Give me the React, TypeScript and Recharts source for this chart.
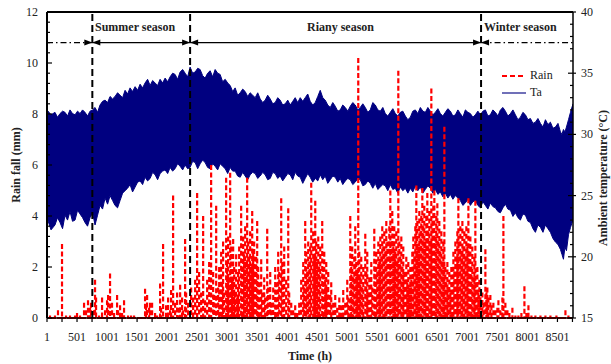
import React from "react";
import { ComposedChart, Area, Line, XAxis, YAxis, ReferenceLine } from "recharts";

const FONT = "'Liberation Serif', 'Times New Roman', serif";

// hourly ambient temperature band, read as upper / lower envelope of the daily swing
const taHour = [
  1, 68, 134, 176, 218, 260, 301, 343, 384, 426, 468, 510, 551, 593, 634, 676, 718, 760, 801, 843,
  884, 926, 968, 1010, 1051, 1093, 1134, 1176, 1218, 1260, 1301, 1343, 1384, 1426, 1468, 1510,
  1551, 1593, 1634, 1676, 1718, 1760, 1801, 1843, 1884, 1926, 1968, 2010, 2051, 2093, 2134, 2176,
  2218, 2260, 2301, 2343, 2384, 2426, 2468, 2510, 2551, 2593, 2634, 2676, 2718, 2760, 2801, 2843,
  2884, 2926, 2968, 3010, 3051, 3093, 3134, 3176, 3218, 3260, 3301, 3343, 3384, 3426, 3468, 3510,
  3551, 3593, 3634, 3676, 3718, 3760, 3801, 3843, 3884, 3926, 3968, 4010, 4051, 4093, 4134, 4176,
  4218, 4260, 4301, 4343, 4384, 4426, 4468, 4510, 4551, 4593, 4634, 4676, 4718, 4760, 4801, 4843,
  4884, 4926, 4968, 5010, 5051, 5093, 5134, 5176, 5218, 5260, 5301, 5343, 5384, 5426, 5468, 5510,
  5551, 5593, 5634, 5676, 5718, 5760, 5801, 5843, 5884, 5926, 5968, 6010, 6051, 6093, 6134, 6176,
  6218, 6260, 6301, 6343, 6384, 6426, 6468, 6510, 6551, 6593, 6634, 6676, 6718, 6760, 6801, 6843,
  6884, 6926, 6968, 7010, 7051, 7093, 7134, 7176, 7218, 7260, 7301, 7343, 7384, 7426, 7468, 7510,
  7551, 7593, 7634, 7676, 7718, 7760, 7801, 7843, 7884, 7926, 7968, 8010, 8051, 8093, 8134, 8176,
  8218, 8260, 8301, 8343, 8384, 8426, 8468, 8510, 8551, 8576, 8601, 8626, 8651, 8685, 8718, 8760,
];
const taMax = [
  32.0, 31.6, 31.8, 31.4, 31.7, 31.9, 31.8, 31.5, 32.0, 31.7, 31.6, 31.9, 31.7, 32.0, 31.8, 31.5, 31.9, 32.0, 32.2, 31.8,
  32.4, 32.7, 32.8, 32.6, 33.1, 32.9, 33.1, 33.4, 33.2, 33.0, 33.6, 33.3, 33.8, 33.5, 33.9, 33.6,
  34.1, 33.8, 34.2, 34.5, 34.0, 34.4, 34.2, 34.0, 34.5, 34.2, 34.6, 34.3, 34.7, 35.0, 34.9, 34.5,
  35.1, 35.3, 35.0, 34.7, 35.5, 35.0, 35.1, 35.4, 35.3, 34.8, 34.6, 35.0, 35.2, 34.7, 35.3, 35.0,
  34.9, 34.3, 34.5, 34.2, 34.0, 33.5, 33.8, 33.2, 33.4, 33.7, 33.5, 33.1, 33.4, 33.2, 33.0, 33.4,
  32.9, 32.6, 32.8, 33.2, 32.9, 32.5, 32.6, 33.0, 32.8, 32.4, 32.5, 32.8, 32.4, 32.7, 33.0, 32.6,
  33.0, 32.7, 33.0, 33.3, 32.7, 32.4, 32.6, 33.1, 33.6, 33.0, 32.8, 32.4, 32.2, 32.6, 32.3, 31.9,
  32.0, 32.4, 32.2, 31.9, 32.3, 32.6, 32.4, 32.0, 32.2, 32.5, 32.2, 31.8, 32.0, 32.6, 32.4, 32.0,
  31.9, 32.2, 31.7, 31.5, 31.8, 32.1, 31.7, 31.5, 31.8, 31.9, 31.5, 31.2, 31.4, 31.9, 32.0, 31.7,
  32.2, 31.9, 31.8, 32.2, 31.9, 31.6, 31.8, 32.1, 31.7, 31.5, 31.8, 32.1, 31.9, 31.5, 31.6, 32.0,
  31.7, 31.4, 32.0, 31.8, 31.7, 31.4, 31.6, 31.9, 31.6, 31.9, 32.0, 31.5, 31.6, 32.0, 31.8, 31.5,
  32.0, 32.2, 31.9, 31.5, 31.7, 32.0, 31.6, 31.2, 31.4, 31.8, 31.6, 31.2, 31.3, 30.9, 31.0, 31.3,
  30.9, 30.6, 31.2, 30.8, 31.0, 30.5, 30.6, 30.9, 30.2, 30.0, 30.4, 30.2, 30.6, 31.2, 31.8, 32.5,
];
const taMin = [
  23.2, 22.2, 22.6, 23.2, 22.8, 22.3, 23.4, 23.0, 23.7, 22.9, 23.0, 23.8, 23.5, 23.2, 22.8, 22.5, 23.2, 23.6, 22.6, 23.4,
  24.2, 23.9, 24.8, 24.3, 25.0, 24.6, 24.2, 24.0, 24.6, 25.2, 25.4, 25.6, 25.9, 25.3, 25.7, 26.1,
  26.2, 25.9, 26.5, 26.2, 26.4, 26.9, 26.7, 26.3, 26.8, 27.0, 27.1, 26.8, 27.3, 27.0, 27.2, 27.6,
  27.4, 27.1, 27.5, 27.2, 27.3, 27.8, 27.7, 27.2, 27.6, 27.9, 27.7, 27.3, 27.2, 27.6, 27.4, 27.1,
  27.6, 27.4, 27.2, 26.8, 27.3, 27.0, 27.0, 26.6, 26.5, 26.9, 26.6, 26.3, 26.7, 26.9, 26.8, 26.4,
  26.6, 26.9, 26.7, 26.3, 26.4, 26.9, 26.8, 26.4, 26.6, 26.2, 26.5, 26.8, 26.7, 26.3, 26.9, 26.6,
  26.5, 26.0, 26.4, 26.8, 26.5, 26.1, 26.4, 26.2, 26.7, 26.3, 26.6, 26.0, 26.3, 26.6, 26.5, 26.1,
  26.4, 25.9, 26.2, 26.4, 26.3, 25.9, 26.1, 26.4, 26.3, 25.8, 25.9, 26.2, 26.0, 25.6, 26.0, 25.5,
  25.7, 25.9, 25.8, 25.4, 25.9, 25.5, 25.6, 25.2, 25.7, 25.4, 25.6, 25.2, 25.6, 25.3, 25.8, 25.4,
  25.7, 25.2, 25.5, 25.8, 25.6, 25.2, 25.5, 25.1, 25.3, 24.9, 25.2, 24.8, 25.1, 24.7, 25.0, 24.8,
  24.6, 24.2, 24.4, 24.7, 24.2, 24.5, 24.6, 24.2, 24.0, 24.5, 24.2, 23.9, 24.4, 24.1, 24.0, 23.7,
  23.6, 24.0, 24.3, 23.9, 23.8, 23.3, 23.6, 23.2, 23.0, 23.5, 23.4, 22.9, 22.8, 22.3, 22.0, 22.6,
  22.4, 22.0, 22.6, 22.3, 22.0, 21.5, 21.2, 21.0, 20.6, 20.2, 19.8, 20.8, 20.5, 21.8, 22.4, 23.0,
];

// rain events: hour of the spike and its height (mm)
const rainHour = [
  51, 134, 184, 251, 318, 384, 468, 501, 551, 618, 651, 684, 718, 734,
  784, 801, 818, 868, 918, 968, 1001, 1018, 1051, 1084, 1118, 1168, 1184, 1218, 1251, 1284,
  1351, 1401, 1451, 1634, 1651, 1668, 1701, 1718, 1751, 1801, 1834, 1884, 1901, 1934, 1984,
  2018, 2051, 2068, 2101, 2134, 2168, 2201, 2218, 2251, 2268, 2301, 2318, 2351,
  2401, 2434, 2468, 2501, 2534, 2568, 2601, 2634, 2668, 2701, 2734, 2768, 2784, 2818, 2851, 2868,
  2901, 2918, 2934, 2951, 2984, 3001, 3018, 3034, 3051, 3068, 3084, 3101, 3118, 3134, 3151, 3168,
  3184, 3201, 3234, 3251, 3268, 3284, 3301, 3318, 3334, 3351, 3368, 3384, 3401, 3418, 3434, 3451,
  3468, 3484, 3501, 3518, 3534, 3568, 3584, 3618, 3634, 3668, 3684, 3718, 3734, 3768, 3801, 3818,
  3851, 3868, 3901, 3918, 3934, 3951, 3984, 4018, 4034, 4068, 4101, 4134, 4168, 4201,
  4234, 4268, 4284, 4301, 4318, 4334, 4351, 4368, 4384, 4401, 4434, 4451, 4468, 4484, 4501, 4518,
  4534, 4551, 4584, 4601, 4618, 4634, 4651, 4668, 4684, 4718, 4734, 4768, 4801, 4834, 4868, 4901,
  4934, 4968, 5001, 5018, 5051, 5068, 5084, 5101, 5118, 5134, 5151, 5168, 5184, 5201, 5218, 5234,
  5251, 5268, 5301, 5318, 5334, 5351, 5368, 5401, 5418, 5451, 5468, 5484, 5501, 5518, 5534, 5551,
  5568, 5584, 5601, 5618, 5634, 5651, 5668, 5684, 5701, 5718, 5734, 5751, 5768, 5784, 5801, 5818,
  5834, 5851, 5868, 5884, 5901, 5918, 5934, 5951, 5984, 6001, 6018, 6034, 6051, 6068, 6084, 6101,
  6118, 6134, 6151, 6168, 6184, 6201, 6218, 6234, 6251, 6268, 6284, 6301, 6318, 6334, 6351, 6368,
  6384, 6401, 6418, 6434, 6451, 6468, 6484, 6501, 6518, 6534, 6551, 6568, 6584, 6601, 6618, 6634,
  6651, 6668, 6684, 6701, 6718, 6734, 6751, 6768, 6784, 6801, 6818, 6834, 6851, 6868, 6884, 6901,
  6918, 6934, 6951, 6968, 6984, 7001, 7018, 7034, 7051, 7068, 7084, 7101, 7118, 7134, 7151, 7168,
  7184, 7201, 7218, 7251, 7268, 7301, 7318, 7334, 7351, 7384, 7401, 7434, 7468, 7501, 7518, 7551,
  7584, 7601, 7634, 7668, 7701, 7751, 7801, 7851, 7901, 7951, 7984, 8018, 8068, 8134, 8218, 8301,
  8384, 8484, 8634, 8684,
];
const rainMm = [
  0.1, 0.1, 0.3, 2.9, 0.1, 0.1, 0.1, 0.2, 0.1, 0.6, 0.3, 0.7, 0.4, 0.6,
  0.3, 1.5, 0.8, 0.1, 0.8, 0.3, 0.7, 0.9, 1.75, 0.6, 0.2, 0.9, 0.3, 0.5, 0.2, 0.7,
  0.1, 0.1, 0.1, 1.15, 0.5, 0.9, 0.4, 0.6, 0.6, 0.2, 0.1, 1.35, 0.4, 2.9, 0.5,
  0.8, 0.3, 1.1, 4.8, 0.6, 1.0, 0.4, 1.3, 0.8, 0.3, 3.1, 1.0, 0.6,
  1.2, 0.8, 1.5, 4.9, 1.8, 1.0, 4.0, 0.7, 1.5, 2.2, 6.0, 1.8, 0.9, 4.4, 1.2, 2.0,
  2.6, 1.4, 3.0, 1.0, 5.5, 2.2, 3.2, 1.6, 5.7, 2.8, 1.5, 3.1, 2.0, 1.0, 2.5, 0.8,
  1.8, 2.8, 4.4, 2.0, 3.2, 2.5, 3.6, 2.2, 5.5, 3.0, 2.4, 3.4, 2.0, 4.2, 2.6, 3.0,
  1.8, 2.4, 3.8, 2.0, 1.4, 2.3, 1.0, 1.6, 0.8, 3.5, 1.2, 1.8, 0.6, 1.2, 2.0, 1.4,
  2.6, 1.8, 4.7, 2.2, 1.3, 2.8, 1.5, 4.3, 1.0, 0.6, 0.3, 0.5, 0.2, 0.6,
  1.5, 2.2, 1.2, 3.8, 2.6, 1.8, 3.0, 2.2, 2.8, 5.3, 3.4, 2.4, 4.6, 3.0, 2.2, 3.2,
  2.0, 2.8, 3.8, 2.0, 2.6, 1.5, 2.2, 1.2, 1.8, 0.9, 1.4, 0.6, 0.9, 0.4, 0.8, 0.5,
  1.1, 0.6, 1.5, 0.8, 4.0, 2.0, 2.8, 1.6, 2.4, 3.6, 2.2, 1.8, 10.2, 2.6, 1.6, 2.4,
  1.2, 2.0, 3.3, 1.8, 2.6, 1.0, 1.6, 2.2, 1.2, 3.5, 2.0, 2.6, 1.8, 3.0, 2.2, 3.2,
  2.4, 3.6, 2.8, 3.4, 2.6, 3.8, 3.0, 2.4, 3.6, 5.0, 3.0, 4.2, 2.8, 3.6, 2.6, 3.4,
  2.2, 9.7, 3.0, 2.4, 3.2, 2.0, 2.8, 1.8, 2.4, 1.4, 2.2, 1.2, 2.0, 1.5, 2.6, 3.2,
  2.4, 3.6, 5.2, 3.8, 2.8, 4.2, 3.4, 4.0, 5.1, 3.6, 4.4, 3.0, 4.0, 4.9, 3.4, 4.2,
  3.0, 9.0, 3.8, 4.4, 5.0, 3.2, 4.0, 4.5, 3.0, 3.8, 2.6, 3.4, 2.2, 3.0, 7.5, 2.0,
  1.4, 2.2, 1.2, 1.8, 1.0, 2.0, 1.4, 2.6, 1.8, 3.0, 2.4, 3.4, 4.7, 3.0, 3.6, 2.6,
  3.8, 2.8, 3.4, 2.4, 3.6, 2.8, 4.7, 2.6, 3.2, 2.0, 2.8, 1.6, 2.4, 4.6, 1.4, 2.0,
  1.0, 1.5, 0.8, 1.0, 0.6, 2.7, 1.0, 1.2, 0.8, 0.9, 0.5, 0.6, 0.3, 0.4, 0.7, 0.3,
  0.8, 4.0, 0.6, 0.3, 0.2, 0.4, 0.1, 0.1, 0.2, 1.25, 0.2, 0.5, 0.1, 0.1, 0.1, 0.1,
  0.1, 0.1, 0.3, 0.1,
];

// season boundaries (hour) and the height of the season arrows (mm)
const seasonBounds = [756, 2384, 7229];
const seasonArrowY = 10.8;

const timeLabels = [1, 501, 1001, 1501, 2001, 2501, 3001, 3501, 4001, 4501, 5001, 5501, 6001, 6501, 7001, 7501, 8001, 8501];
const timeTicks = [1, 251, 501, 751, 1001, 1251, 1501, 1751, 2001, 2251, 2501, 2751, 3001, 3251, 3501, 3751, 4001, 4251, 4501, 4751, 5001, 5251, 5501, 5751, 6001, 6251, 6501, 6751, 7001, 7251, 7501, 7751, 8001, 8251, 8501, 8751];
const rainLabels = [0, 2, 4, 6, 8, 10, 12];
const rainTicks = Array.from({ length: 31 }, (_, i) => Math.round(i * 4) / 10);
const tempLabels = [15, 20, 25, 30, 35, 40];
const tempTicks = Array.from({ length: 26 }, (_, i) => 15 + i);

const taData = taHour.map((h, i) => ({ h, ta: [taMin[i], taMax[i]] }));
const rainData = rainHour.flatMap((h, i) => [
  { h, rain: rainMm[i] },
  { h, rain: 0 },
  { h, rain: null },
]);

function TimeTick(props: any) {
  const { x, y, payload } = props;
  const v = payload.value;
  return (
    <g>
      <line x1={x} y1={y} x2={x} y2={y + 4} stroke="#000" strokeWidth={1.2} />
      {timeLabels.includes(v) && (
        <text x={x} y={y + 23} textAnchor="middle" fontSize={12} fontFamily={FONT} fill="#222">
          {v}
        </text>
      )}
    </g>
  );
}

function RainTick(props: any) {
  const { x, y, payload } = props;
  const v = payload.value;
  const major = rainLabels.includes(v);
  return (
    <g>
      <line x1={x} y1={y} x2={x + (major ? 5 : 3)} y2={y} stroke="#000" strokeWidth={1.2} />
      {major && (
        <text x={x - 9} y={y + 4} textAnchor="end" fontSize={12} fontFamily={FONT} fill="#222">
          {v}
        </text>
      )}
    </g>
  );
}

function TempTick(props: any) {
  const { x, y, payload } = props;
  const v = payload.value;
  const major = tempLabels.includes(v);
  return (
    <g>
      <line x1={x - (major ? 5 : 3)} y1={y} x2={x + (major ? 3 : 0)} y2={y} stroke="#000" strokeWidth={1.2} />
      {major && (
        <text x={x + 8} y={y + 4} textAnchor="start" fontSize={12} fontFamily={FONT} fill="#222">
          {v}
        </text>
      )}
    </g>
  );
}

// horizontal season span with arrow heads pointing at the boundaries
const arrowShape = (start: boolean, end: boolean, dashed: boolean) => (p: any) => {
  const { x1, y1, x2 } = p;
  return (
    <g>
      <line x1={x1} y1={y1} x2={x2} y2={y1} stroke="#000" strokeWidth={1.2} strokeDasharray={dashed ? "6 3 1.5 3" : undefined} />
      {start && <polygon points={`${x1},${y1} ${x1 + 8},${y1 - 3} ${x1 + 8},${y1 + 3}`} fill="#000" />}
      {end && <polygon points={`${x2},${y1} ${x2 - 8},${y1 - 3} ${x2 - 8},${y1 + 3}`} fill="#000" />}
    </g>
  );
};

const abs = (left: number, top: number, extra: React.CSSProperties = {}): React.CSSProperties => ({
  position: "absolute",
  left,
  top,
  fontFamily: FONT,
  whiteSpace: "nowrap",
  color: "#222",
  ...extra,
});

export default function App() {
  const [b1, b2, b3] = seasonBounds;
  return (
    <div style={{ position: "absolute", left: 0, top: 0, width: 611, height: 364, background: "#fff" }}>
      <ComposedChart width={611} height={364} margin={{ top: 12, right: 0, bottom: 0, left: 0 }}>
        <XAxis
          dataKey="h"
          type="number"
          domain={[1, 8760]}
          allowDataOverflow
          ticks={timeTicks}
          interval={0}
          tickSize={0}
          tickMargin={0}
          tick={<TimeTick />}
          height={46}
          axisLine={{ stroke: "#000", strokeWidth: 1.5 }}
        />
        <YAxis
          yAxisId="rain"
          orientation="left"
          domain={[0, 12]}
          allowDataOverflow
          ticks={rainTicks}
          interval={0}
          tickSize={0}
          tickMargin={0}
          tick={<RainTick />}
          width={47}
          axisLine={{ stroke: "#000", strokeWidth: 2 }}
        />
        <YAxis
          yAxisId="temp"
          orientation="right"
          domain={[15, 40]}
          allowDataOverflow
          ticks={tempTicks}
          interval={0}
          tickSize={0}
          tickMargin={0}
          tick={<TempTick />}
          width={38}
          axisLine={{ stroke: "#000", strokeWidth: 1.5 }}
        />
        <Line
          yAxisId="rain"
          data={rainData}
          dataKey="rain"
          name="Rain"
          stroke="#ff0000"
          strokeWidth={2.2}
          strokeDasharray="5 2.5"
          dot={false}
          connectNulls={false}
          isAnimationActive={false}
        />
        <ReferenceLine yAxisId="rain" y={0} stroke="#ff0000" strokeWidth={2} strokeDasharray="9 1" />
        <Area
          yAxisId="temp"
          data={taData}
          dataKey="ta"
          name="Ta"
          type="linear"
          stroke="#000080"
          strokeWidth={1}
          fill="#000080"
          fillOpacity={1}
          isAnimationActive={false}
        />
        <ReferenceLine yAxisId="rain" y={12} stroke="#000" strokeWidth={2} />
        {seasonBounds.map((b) => (
          <ReferenceLine key={b} yAxisId="rain" x={b} stroke="#000" strokeWidth={2} strokeDasharray="7 4" />
        ))}
        <ReferenceLine yAxisId="rain" segment={[{ x: 1, y: seasonArrowY }, { x: b1, y: seasonArrowY }]} shape={arrowShape(false, true, true)} />
        <ReferenceLine yAxisId="rain" segment={[{ x: b1, y: seasonArrowY }, { x: b2, y: seasonArrowY }]} shape={arrowShape(true, true, false)} />
        <ReferenceLine yAxisId="rain" segment={[{ x: b2, y: seasonArrowY }, { x: b3, y: seasonArrowY }]} shape={arrowShape(true, true, false)} />
        <ReferenceLine yAxisId="rain" segment={[{ x: b3, y: seasonArrowY }, { x: 8760, y: seasonArrowY }]} shape={arrowShape(true, false, true)} />
      </ComposedChart>

      <div style={abs(95, 20, { fontSize: 12, fontWeight: "bold" })}>Summer season</div>
      <div style={abs(307, 20, { fontSize: 12, fontWeight: "bold" })}>Riany season</div>
      <div style={abs(484, 20, { fontSize: 12, fontWeight: "bold" })}>Winter season</div>

      <div style={abs(16, 165, { fontSize: 12, fontWeight: "bold", transform: "translate(-50%, -50%) rotate(-90deg)" })}>
        Rain fall (mm)
      </div>
      <div style={abs(603, 178, { fontSize: 12, fontWeight: "bold", transform: "translate(-50%, -50%) rotate(-90deg)" })}>
        Ambient temperature (°C)
      </div>
      <div style={abs(310, 356, { fontSize: 12, fontWeight: "bold", transform: "translate(-50%, -50%)" })}>Time (h)</div>

      <div style={abs(500, 67, { fontSize: 12 })}>
        <div style={{ display: "flex", alignItems: "center", height: 17 }}>
          <svg width={28} height={6}>
            <line x1={2} y1={3} x2={26} y2={3} stroke="#ff0000" strokeWidth={2} strokeDasharray="5 3" />
          </svg>
          <span style={{ marginLeft: 2 }}>Rain</span>
        </div>
        <div style={{ display: "flex", alignItems: "center", height: 17 }}>
          <svg width={28} height={6}>
            <line x1={2} y1={3} x2={26} y2={3} stroke="#4040a0" strokeWidth={1.5} />
          </svg>
          <span style={{ marginLeft: 2 }}>Ta</span>
        </div>
      </div>
    </div>
  );
}
